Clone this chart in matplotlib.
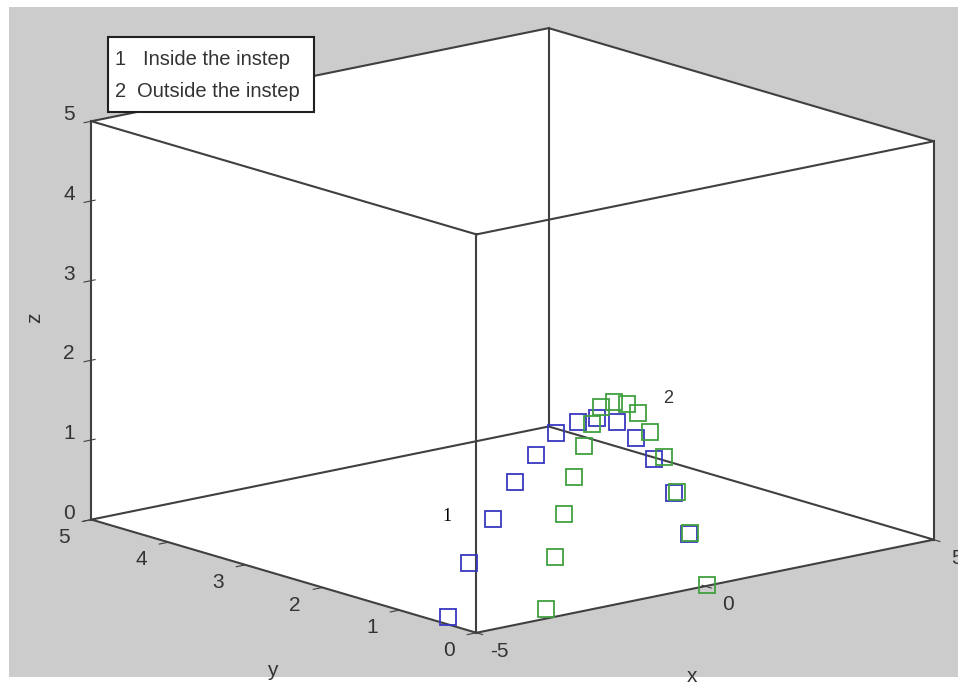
import matplotlib
matplotlib.use("Agg")
import matplotlib.pyplot as plt
from matplotlib.patches import Rectangle

# Inside the instep (series 1, blue)
x_in = [-4.78, -4.32, -3.80, -3.31, -2.85, -2.42, -1.93, -1.52, -1.08, -0.66, -0.27, 0.17, 0.50]
y_in = [0.5] * 13
z_in = [0.03, 0.65, 1.14, 1.55, 1.84, 2.06, 2.15, 2.15, 2.04, 1.80, 1.48, 1.01, 0.46]

# Outside the instep (series 2, green)
x_out = [-3.48, -3.28, -3.08, -2.86, -2.65, -2.47, -2.27, -1.99, -1.70, -1.46, -1.20, -0.89, -0.61, -0.32, 0.05]
y_out = [0.0] * 15
z_out = [0.12, 0.75, 1.27, 1.71, 2.07, 2.32, 2.51, 2.55, 2.49, 2.34, 2.08, 1.73, 1.25, 0.70, 0.01]

x_ticks = [-5, 0, 5]
y_ticks = [0, 1, 2, 3, 4, 5]
z_ticks = [0, 1, 2, 3, 4, 5]

gray = "#cccccc"
edge = "#404040"
txt = "#333333"
plt.rcParams["font.family"] = ["Liberation Sans", "DejaVu Sans"]
plt.rcParams["axes.unicode_minus"] = False

fig = plt.figure(figsize=(9.58, 6.84), dpi=100, facecolor="white")
# grey figure area with thin white border like the screenshot
fig.patches.append(Rectangle((9 / 958, 7 / 684), 949 / 958, 670 / 684,
                             transform=fig.transFigure, facecolor=gray,
                             edgecolor="none", zorder=-1))

ax = fig.add_axes([29 / 958, 9.5 / 684, 949 / 958, 670 / 684], projection="3d", proj_type="ortho")
ax.patch.set_visible(False)
ax.view_init(elev=14.16, azim=-129.77)
ax.set_box_aspect((1.448, 1.465, 1.0), zoom=1.363)

ax.set_xlim(-5, 5)
ax.set_ylim(0, 5)
ax.set_zlim(0, 5)
ax.grid(False)
for a in (ax.xaxis, ax.yaxis, ax.zaxis):
    a.set_pane_color((1, 1, 1, 1))
    a.pane.set_edgecolor("none")
    a.line.set_linewidth(0)
# y ticks point into the box like the MATLAB original
ax.yaxis._axinfo["tick"]["inward_factor"] = 0.25
ax.yaxis._axinfo["tick"]["outward_factor"] = 0.0

ax.set_xticks(x_ticks)
ax.set_yticks(y_ticks)
ax.set_zticks(z_ticks)
ax.tick_params(labelcolor="none", colors=edge)

# tick labels, placed just outside the box edges
for t in x_ticks:
    ax.text(t, -0.3, -0.15, str(t), fontsize=15, color=txt, ha="center", va="center")
for t in y_ticks:
    ax.text(-5.6, t, -0.15, str(t), fontsize=15, color=txt, ha="center", va="center")
for t in z_ticks:
    ax.text(-5, 5.29, t, str(t), fontsize=15, color=txt, ha="center", va="center")

# box edges
x0, x1 = ax.get_xlim()
y0, y1 = ax.get_ylim()
z0, z1 = ax.get_zlim()
for zz in (z0, z1):
    ax.plot([x0, x1, x1, x0, x0], [y0, y0, y1, y1, y0], [zz] * 5, color=edge, lw=1.5, clip_on=False)
for xx, yy in ((x0, y0), (x1, y0), (x1, y1), (x0, y1)):
    ax.plot([xx, xx], [yy, yy], [z0, z1], color=edge, lw=1.5, clip_on=False)

ax.plot(x_in, y_in, z_in, "s", ms=11, mfc="none", mec="#3838c0", mew=1.3, clip_on=False)
ax.plot(x_out, y_out, z_out, "s", ms=11, mfc="none", mec="#40a040", mew=1.3, clip_on=False)

ax.text(-4.8, 0.5, 1.29, "1", fontsize=13, family="Liberation Serif", ha="center", va="center")
ax.text(-0.81, 0.0, 2.45, "2", fontsize=13, ha="center", va="center", color=txt)

# axis labels
fig.text(692 / 958, 1 - 676 / 684, "x", fontsize=15, color=txt, ha="center", va="center")
fig.text(272 / 958, 1 - 670 / 684, "y", fontsize=15, color=txt, ha="center", va="center")
fig.text(35 / 958, 1 - 318 / 684, "z", fontsize=15, color=txt, ha="center", va="center", rotation=90)

# legend-style text box
fig.patches.append(Rectangle((108 / 958, 1 - 112 / 684), 206 / 958, 75 / 684,
                             transform=fig.transFigure, facecolor="white",
                             edgecolor="#202020", lw=1.5, zorder=5))
fig.text(115 / 958, 1 - 65 / 684, "1", fontsize=14.5, color=txt, va="baseline", zorder=6)
fig.text(143 / 958, 1 - 65 / 684, "Inside the instep", fontsize=14.5, color=txt, va="baseline", zorder=6)
fig.text(115 / 958, 1 - 97 / 684, "2", fontsize=14.5, color=txt, va="baseline", zorder=6)
fig.text(137 / 958, 1 - 97 / 684, "Outside the instep", fontsize=14.5, color=txt, va="baseline", zorder=6)

fig.savefig("out.png", dpi=100, facecolor=fig.get_facecolor())
